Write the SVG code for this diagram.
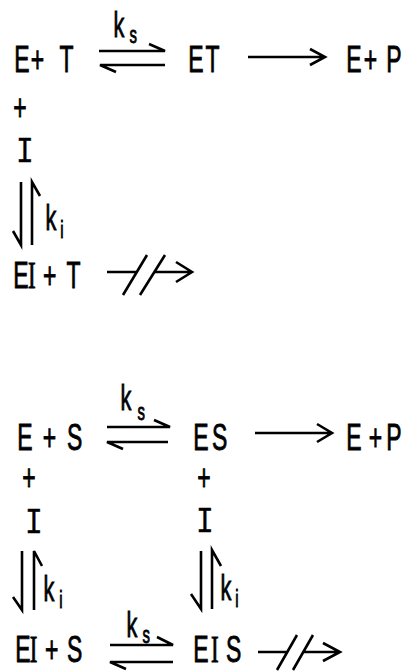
<svg xmlns="http://www.w3.org/2000/svg" width="418" height="671" viewBox="0 0 418 671">
<style>
.t{font-family:"Liberation Sans",Arial,sans-serif;font-size:37px;fill:#000;stroke:#000;stroke-width:0.9}
.m{font-family:"Liberation Mono","DejaVu Sans Mono",monospace}
.sf{font-family:"Liberation Serif","Times New Roman",serif}
.n{stroke-width:0.4}
.ln{stroke:#000;stroke-width:2.6;fill:none;stroke-linecap:butt;stroke-linejoin:miter}
</style>
<rect width="418" height="671" fill="#fff"/>
<g id="connectors">
  <path class="ln" d="M99,51 H165 L149,44 M165,65 H100 L116,72"/>
  <path class="ln" d="M248,57 H325 M310,49 L325,57 L310,65"/>
  <path class="ln" d="M21,182 V245 L13,231 M32,245 V182 L40,196"/>
  <path class="ln" d="M107,272 H137 M154,272 H192 M176,262 L192,272 L176,282 M123,295 L147,255 M140,295 L165,255"/>
  <path class="ln" d="M107,427 H170 L154,420 M168,442 H107 L123,449"/>
  <path class="ln" d="M255,433 H332 M317,424 L332,433 L317,442"/>
  <path class="ln" d="M22,551 V610 L13,597 M34,610 V551 L42,566"/>
  <path class="ln" d="M201,551 V609 L191,594 M212,609 V550 L221,566"/>
  <path class="ln" d="M110,645 H173 L157,637 M173,662 H110 L126,669"/>
  <path class="ln" d="M258,652 H287 M303,652 H340 M323,643 L340,652 L323,661 M277,670 L297,635 M293,670 L313,635"/>
</g>
<g id="ET_top" transform="scale(0.62,1)">
  <text class="t" x="22.9 49.8 96" y="72">E+T</text>
  <text class="t" y="37"><tspan x="183.2" font-size="35">k</tspan><tspan x="209" y="43" font-size="24">s</tspan></text>
  <text class="t" x="303.5 331.5" y="72">ET</text>
  <text class="t" x="558.4 586.6 622.9" y="72">E+P</text>
  <text class="t" x="32.3" y="120" text-anchor="middle">+</text>
  <text class="t" y="230"><tspan x="73.5" font-size="35">k</tspan><tspan x="97.1" y="238" font-size="24">i</tspan></text>
  <text class="t" y="288"><tspan x="21.3">E</tspan><tspan class="sf" x="45" font-size="37">I</tspan><tspan x="69.3 107.3">+T</tspan></text>
</g>
<g id="I_top" transform="scale(0.8,1)">
  <text class="t m n" x="31.25" y="162" font-size="44" text-anchor="middle">I</text>
</g>
<g id="ES_bottom" transform="scale(0.62,1)">
  <text class="t" x="27.7 68.9 108" y="450">E+S</text>
  <text class="t" y="410"><tspan x="194.5" font-size="35">k</tspan><tspan x="221.9" y="420" font-size="24">s</tspan></text>
  <text class="t" x="311.6 341.9" y="450">ES</text>
  <text class="t" x="558.4 594.7 622.9" y="450">E+P</text>
  <text class="t" x="46.8" y="490" text-anchor="middle">+</text>
  <text class="t" x="329" y="490" text-anchor="middle">+</text>
  <text class="t" y="601"><tspan x="70.3" font-size="35">k</tspan><tspan x="95.5" y="608" font-size="24">i</tspan></text>
  <text class="t" y="600"><tspan x="355.8" font-size="35">k</tspan><tspan x="379.4" y="607" font-size="24">i</tspan></text>
  <text class="t" y="662"><tspan x="24.5">E</tspan><tspan class="sf" x="48" font-size="37">I</tspan><tspan x="72.5 108">+S</tspan></text>
  <text class="t" y="637"><tspan x="204.2" font-size="35">k</tspan><tspan x="230" y="643" font-size="24">s</tspan></text>
  <text class="t" y="662"><tspan x="311.6">E</tspan><tspan class="sf" x="340.5" font-size="37">I</tspan><tspan x="364.4">S</tspan></text>
</g>
<g id="I_bottom" transform="scale(0.8,1)">
  <text class="t m n" x="42.5" y="533" font-size="44" text-anchor="middle">I</text>
  <text class="t m n" x="256.25" y="532.5" font-size="44" text-anchor="middle">I</text>
</g>
</svg>
